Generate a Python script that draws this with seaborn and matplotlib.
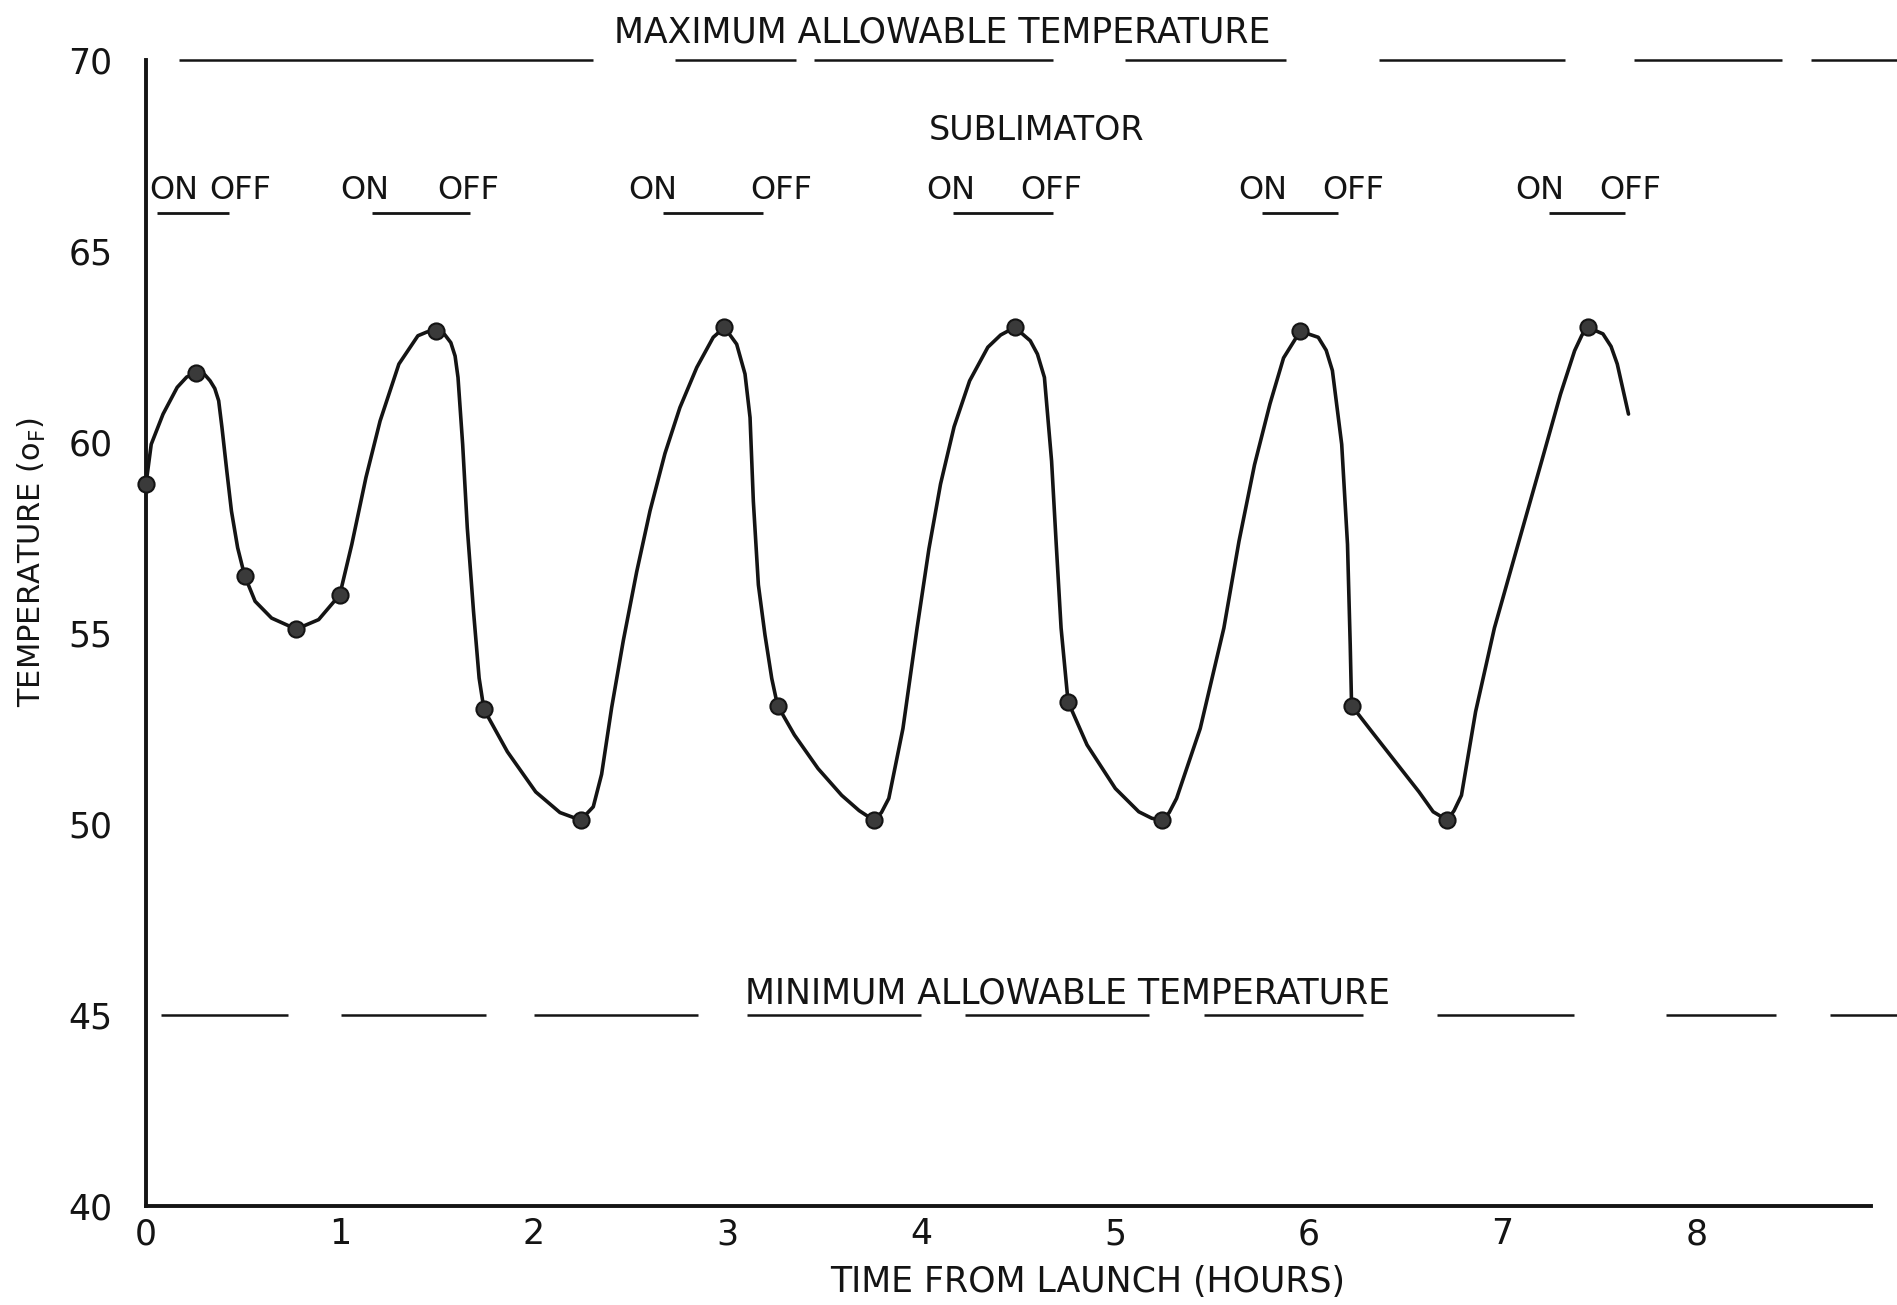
import matplotlib
matplotlib.use("Agg")
import matplotlib.pyplot as plt
from matplotlib.ticker import MultipleLocator
import seaborn as sns

# Measured cabin temperature points (hours from launch, deg F)
point_hours = [0.0, 0.26, 0.51, 0.775, 1.0, 1.495, 1.744, 2.243, 2.985, 3.259,
               3.755, 4.483, 4.758, 5.245, 5.956, 6.221, 6.715, 7.44]
point_temps = [58.9, 61.8, 56.5, 55.1, 56.0, 62.9, 53.0, 50.1, 63.0, 53.1,
               50.1, 63.0, 53.2, 50.1, 62.9, 53.1, 50.1, 63.0]

# Faired temperature curve traced through the measurements, one cycle per row
curve_hours = [
    0.0, 0.027, 0.088, 0.161, 0.21, 0.26, 0.30, 0.331, 0.355, 0.375, 0.392, 0.417,
    0.441, 0.473, 0.509, 0.563, 0.648, 0.775, 0.891, 1.0, 1.062, 1.135, 1.208,
    1.305, 1.403, 1.45, 1.495, 1.54, 1.573, 1.595, 1.61, 1.634, 1.658, 1.69,
    1.719, 1.744,
    1.865, 2.011, 2.136, 2.243, 2.308, 2.351, 2.403, 2.463, 2.532, 2.601, 2.678,
    2.755, 2.842, 2.927, 2.985, 3.048, 3.091, 3.117, 3.134, 3.16, 3.194, 3.229,
    3.259,
    3.346, 3.468, 3.59, 3.68, 3.755, 3.795, 3.833, 3.906, 3.979, 4.04, 4.10,
    4.17, 4.25, 4.344, 4.41, 4.483, 4.563, 4.60, 4.636, 4.673, 4.697, 4.722, 4.758,
    4.856, 5.002, 5.123, 5.19, 5.245, 5.28, 5.318, 5.44, 5.562, 5.64, 5.72,
    5.80, 5.87, 5.956, 6.049, 6.09, 6.122, 6.17, 6.2, 6.214, 6.221,
    6.325, 6.447, 6.569, 6.642, 6.715, 6.75, 6.788, 6.861, 6.958, 7.08, 7.202,
    7.299, 7.372, 7.41, 7.44, 7.518, 7.56, 7.592, 7.65]
curve_temps = [
    58.9, 59.94, 60.73, 61.43, 61.7, 61.8, 61.78, 61.6, 61.4, 61.08, 60.38, 59.24,
    58.19, 57.23, 56.5, 55.83, 55.39, 55.1, 55.35, 56.0, 57.32, 59.07, 60.55,
    62.04, 62.78, 62.88, 62.9, 62.82, 62.6, 62.25, 61.69, 59.94, 57.75, 55.57,
    53.82, 53.0,
    51.89, 50.84, 50.3, 50.1, 50.45, 51.3, 53.05, 54.8, 56.6, 58.2, 59.7,
    60.9, 61.95, 62.74, 63.0, 62.56, 61.78, 60.64, 58.45, 56.26, 54.95, 53.81,
    53.1,
    52.33, 51.45, 50.75, 50.35, 50.1, 50.3, 50.67, 52.5, 55.13, 57.2, 58.9,
    60.4, 61.6, 62.48, 62.8, 63.0, 62.65, 62.3, 61.69, 59.5, 57.32, 55.13, 53.2,
    52.07, 50.93, 50.32, 50.15, 50.1, 50.3, 50.67, 52.5, 55.13, 57.4, 59.4,
    61.0, 62.2, 62.9, 62.74, 62.4, 61.87, 59.94, 57.32, 54.69, 53.1,
    52.42, 51.63, 50.84, 50.32, 50.1, 50.35, 50.75, 52.94, 55.13, 57.32, 59.5,
    61.25, 62.39, 62.8, 63.0, 62.83, 62.5, 62.04, 60.73]

# Allowable limits (deg F)
max_allowable = 70
min_allowable = 45

# Sublimator operating periods (hours)
sublimator_on = [0.057, 1.166, 2.668, 4.164, 5.759, 7.24]
sublimator_off = [0.428, 1.672, 3.184, 4.680, 6.150, 7.632]

x_ticks = [0, 1, 2, 3, 4, 5, 6, 7, 8]
y_ticks = [40, 45, 50, 55, 60, 65, 70]

# ---- styling ----
sns.set_style("white")
plt.rcParams["font.family"] = ["DejaVu Sans"]
ink = "#141414"

fig = plt.figure(figsize=(18.97, 13.05), dpi=100)
fig.patch.set_facecolor("white")
ax = fig.add_axes([0.07696, 0.07586, 0.9092, 0.8782])
ax.set_facecolor("white")
ax.set_xlim(0, 8.9)
ax.set_ylim(40, 70)

# broken limit lines, running under the limit captions
max_dash_start = [0.17, 2.73, 3.447, 5.052, 6.362, 7.678, 8.591]
max_dash_end = [2.307, 3.354, 4.68, 5.882, 7.322, 8.442, 9.04]
min_dash_start = [0.077, 1.006, 2.002, 3.101, 4.226, 5.459, 6.661, 7.843, 8.689]
min_dash_end = [0.733, 1.754, 2.848, 4.0, 5.175, 6.28, 7.368, 8.411, 9.04]
ax.hlines([max_allowable] * len(max_dash_start), max_dash_start, max_dash_end,
          color=ink, lw=1.8, clip_on=False)
ax.hlines([min_allowable] * len(min_dash_start), min_dash_start, min_dash_end,
          color=ink, lw=1.8, clip_on=False)

ax.text(4.107, 70.45, "MAXIMUM ALLOWABLE TEMPERATURE", ha="center", va="baseline",
        fontsize=25, color=ink, clip_on=False)
ax.text(4.757, 45.3, "MINIMUM ALLOWABLE TEMPERATURE", ha="center", va="baseline",
        fontsize=25, color=ink)

# sublimator annotations
ax.text(4.598, 67.9, "SUBLIMATOR", ha="center", va="baseline", fontsize=24, color=ink)
on_label_x = [0.145, 1.13, 2.616, 4.154, 5.764, 7.193]
off_label_x = [0.485, 1.661, 3.277, 4.67, 6.228, 7.657]
for xo, xf in zip(on_label_x, off_label_x):
    ax.text(xo, 66.35, "ON", ha="center", va="baseline", fontsize=23, color=ink)
    ax.text(xf, 66.35, "OFF", ha="center", va="baseline", fontsize=23, color=ink)
ax.hlines([66.0] * len(sublimator_on), sublimator_on, sublimator_off, color=ink, lw=2.0)

# temperature curve and data points
sns.lineplot(x=curve_hours, y=curve_temps, sort=False, estimator=None, ax=ax,
             color=ink, lw=2.6, solid_joinstyle="round", solid_capstyle="round")
sns.scatterplot(x=point_hours, y=point_temps, ax=ax, s=135, color="#3a3a3a",
                edgecolor=ink, linewidth=1.5, zorder=5, clip_on=False)

# axes
for side in ("top", "right"):
    ax.spines[side].set_visible(False)
for side in ("left", "bottom"):
    ax.spines[side].set_color(ink)
    ax.spines[side].set_linewidth(2.8)

ax.set_xticks(x_ticks)
ax.set_yticks(y_ticks)
ax.set_xticklabels([str(v) for v in x_ticks])
ax.set_yticklabels([str(v) for v in y_ticks])
ax.yaxis.set_minor_locator(MultipleLocator(1))
ax.tick_params(axis="y", which="major", direction="out", length=12, width=2.2,
               pad=12, labelsize=25, colors=ink)
ax.tick_params(axis="y", which="minor", direction="in", length=5, width=1.2,
               color="#777777")
ax.tick_params(axis="x", which="major", direction="in", length=11, width=2.2,
               pad=8, labelsize=25, colors=ink)

ax.set_xlabel("TIME FROM LAUNCH (HOURS)", fontsize=25, color=ink)
ax.xaxis.set_label_coords(0.546, -0.0515)
ax.set_ylabel(r"TEMPERATURE (o$_{\mathrm{F}}$)", fontsize=22, color=ink)
ax.yaxis.set_label_coords(-0.057, 0.562)

fig.savefig("out.png", dpi=100, facecolor="white")
